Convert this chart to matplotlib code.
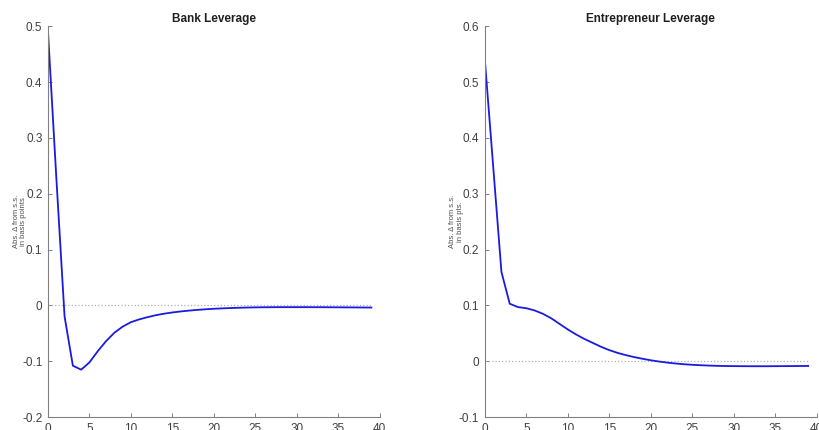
import numpy as np
import matplotlib.pyplot as plt

plt.rcParams['font.family'] = ['Liberation Sans', 'DejaVu Sans']

# impulse responses, periods 0..39
periods = np.arange(40)
bank_lev = [0.49, 0.23, -0.02, -0.108, -0.115, -0.102, -0.082, -0.064, -0.049, -0.038,
            -0.030, -0.025, -0.021, -0.0175, -0.0148, -0.0126, -0.0108, -0.0093, -0.0080, -0.0069,
            -0.0060, -0.0053, -0.0047, -0.0042, -0.0038, -0.0035, -0.0033, -0.0032, -0.0031, -0.0031,
            -0.0031, -0.0031, -0.0032, -0.0032, -0.0033, -0.0034, -0.0035, -0.0036, -0.0037, -0.0038]
entr_lev = [0.54, 0.35, 0.16, 0.103, 0.097, 0.095, 0.091, 0.085, 0.077, 0.067,
            0.057, 0.048, 0.040, 0.033, 0.026, 0.020, 0.015, 0.011, 0.0075, 0.0045,
            0.0018, -0.0005, -0.0024, -0.0040, -0.0053, -0.0063, -0.0071, -0.0077, -0.0082, -0.0085,
            -0.0087, -0.0088, -0.0089, -0.0089, -0.0089, -0.0088, -0.0087, -0.0086, -0.0085, -0.0084]

titles = ['Bank Leverage', 'Entrepreneur Leverage']
ylabels = ['Abs. \u0394 from s.s.\nin basis points', 'Abs. \u0394 from s.s.\nin basis pts.']
ylims = [(-0.2, 0.5), (-0.1, 0.6)]

fig = plt.figure(figsize=(8.19, 4.30), dpi=100)
axes = [fig.add_axes([0.0586, 0.030, 0.405, 0.909]),
        fig.add_axes([0.592, 0.030, 0.405, 0.909])]

for ax, y, title, ylab, ylim in zip(axes, [bank_lev, entr_lev], titles, ylabels, ylims):
    ax.plot(periods, np.zeros(len(periods)), ':', color='#b0b0b0', lw=0.9)
    ax.plot(periods, y, color='#1a1ae0', lw=1.3)
    ax.set_xlim(0, 40)
    ax.set_ylim(*ylim)
    ax.set_xticks(np.arange(0, 41, 5))
    ax.set_yticks(np.round(np.arange(ylim[0], ylim[1] + 0.01, 0.1), 1))
    ax.yaxis.set_major_formatter(plt.FuncFormatter(lambda v, p: '0' if abs(v) < 1e-9 else f'{v:g}'))
    for s in ['top', 'right']:
        ax.spines[s].set_visible(False)
    for s in ['left', 'bottom']:
        ax.spines[s].set_color('#808080')
        ax.spines[s].set_linewidth(0.8)
    ax.tick_params(direction='in', length=3, width=0.7, color='#808080',
                   labelcolor='#404040', labelsize=8.5, pad=4)
    ax.set_title(title, fontsize=8.5, fontweight='bold', color='#202020', pad=3)
    ax.set_ylabel(ylab, fontsize=5.5, color='#505050', linespacing=1.1)
    ax.yaxis.set_label_coords(-0.063, 0.5)

fig.savefig('out.png', dpi=100)
